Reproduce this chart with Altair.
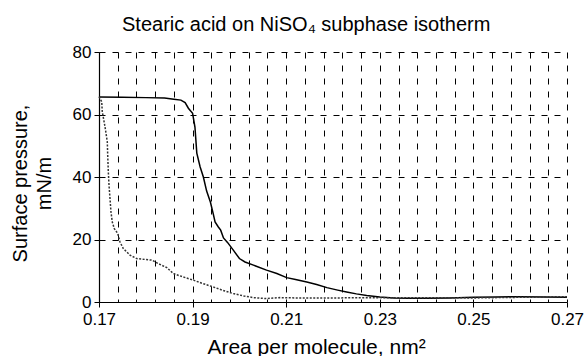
import altair as alt
import pandas as pd

# Solid curve (area per molecule, nm^2 ; surface pressure, mN/m)
solid_area = [0.1700, 0.1750, 0.1800, 0.1840, 0.1860, 0.1875, 0.1884, 0.1891, 0.1900,
              0.1905, 0.1909, 0.1916, 0.1923, 0.1930, 0.1938, 0.1944, 0.1948, 0.1955,
              0.1960, 0.1966, 0.1975, 0.1987, 0.2000, 0.2012, 0.2030, 0.2058, 0.2080,
              0.2101, 0.2120, 0.2144, 0.2165, 0.2187, 0.2210, 0.2229, 0.2250, 0.2272,
              0.2300, 0.2330, 0.2360, 0.2400, 0.2450, 0.2500, 0.2550, 0.2600, 0.2650, 0.2700]
solid_pressure = [65.6, 65.5, 65.4, 65.3, 64.9, 64.6, 63.8, 62.0, 60.4,
                  56.0, 47.6, 43.3, 40.0, 35.5, 32.0, 28.3, 25.6, 24.0,
                  23.0, 20.5, 19.0, 16.6, 13.9, 12.8, 11.8, 10.2, 9.1,
                  7.8, 7.2, 6.4, 5.6, 4.6, 3.8, 3.2, 2.6, 2.1,
                  1.6, 1.3, 1.2, 1.2, 1.3, 1.5, 1.6, 1.7, 1.6, 1.5]

# Dotted curve
dotted_area = [0.1700, 0.17058, 0.1707, 0.17128, 0.17177, 0.17186, 0.17199, 0.17214,
               0.17235, 0.17256, 0.17284, 0.17327, 0.1740, 0.17449, 0.17519, 0.17662,
               0.17806, 0.1813, 0.18267, 0.1845, 0.18588, 0.1880, 0.19015, 0.1920,
               0.19442, 0.1965, 0.1987, 0.2010, 0.2030, 0.20583, 0.2087, 0.2120,
               0.2200, 0.2300, 0.2400, 0.2500, 0.2600, 0.2700]
dotted_pressure = [65.7, 64.1, 60.9, 56.1, 51.3, 47.0, 41.7, 37.4,
                   33.1, 28.8, 25.6, 23.5, 21.9, 19.2, 17.1, 15.0,
                   13.9, 13.4, 12.3, 11.0, 9.1, 8.0, 7.0, 6.0,
                   4.8, 3.7, 2.7, 1.9, 1.4, 1.1, 1.4, 1.3,
                   1.3, 1.4, 1.4, 1.3, 1.5, 1.7]

x_grid_values = [0.170, 0.174, 0.178, 0.182, 0.186, 0.190, 0.194, 0.198, 0.202,
                 0.206, 0.210, 0.214, 0.218, 0.222, 0.226, 0.230, 0.234, 0.238,
                 0.242, 0.246, 0.250, 0.254, 0.258, 0.262, 0.266, 0.270]
y_tick_values = [0, 20, 40, 60, 80]

df_solid = pd.DataFrame({"area": solid_area, "pressure": solid_pressure})
df_dotted = pd.DataFrame({"area": dotted_area, "pressure": dotted_pressure})

FONT = "Liberation Sans"
major_test = "abs((datum.value-0.17)*50 - round((datum.value-0.17)*50)) < 0.001"

x_enc = alt.X(
    "area:Q",
    scale=alt.Scale(domain=[0.17, 0.27], nice=False, zero=False),
    axis=alt.Axis(
        values=x_grid_values,
        labelExpr=f"{major_test} ? format(datum.value, '.2f') : ''",
        labelOverlap=False,
        labelFlush=False,
        labelFontSize=17,
        labelFont=FONT,
        labelColor="black",
        labelPadding=4,
        tickSize=5,
        tickColor="black",
        tickOpacity={"condition": {"test": major_test, "value": 1}, "value": 0},
        domainColor="black",
        domainWidth=1.2,
        grid=True,
        gridColor="black",
        gridDash=[6, 7],
        gridWidth=1,
        title="Area per molecule, nm²",
        titleFont=FONT,
        titleFontSize=21,
        titleFontWeight="normal",
        titleColor="black",
        titleX=217,
        titleY=51,
        titleAlign="center",
        titleBaseline="alphabetic",
    ),
)

y_enc = alt.Y(
    "pressure:Q",
    scale=alt.Scale(domain=[0, 80], nice=False),
    axis=alt.Axis(
        values=y_tick_values,
        labelFontSize=17,
        labelFont=FONT,
        labelColor="black",
        labelPadding=3,
        tickSize=5,
        tickColor="black",
        domainColor="black",
        domainWidth=1.2,
        grid=True,
        gridColor="black",
        gridDash=[6, 7],
        gridWidth=1,
        title=["Surface pressure,", "mN/m"],
        titleFont=FONT,
        titleFontSize=20,
        titleFontWeight="normal",
        titleColor="black",
        titleAngle=270,
        titleX=-73,
        titleY=131,
        titleAlign="center",
        titleBaseline="alphabetic",
        titleLineHeight=24,
    ),
)

solid = alt.Chart(df_solid).mark_line(color="black", strokeWidth=1.5).encode(
    x=x_enc, y=y_enc, order="area:Q"
)
dotted = alt.Chart(df_dotted).mark_line(
    color="#333333", strokeWidth=1.5, strokeDash=[2, 1.5]
).encode(x=x_enc, y=y_enc, order="area:Q")

chart = (
    alt.layer(solid, dotted)
    .properties(
        width=468,
        height=250,
        autosize=alt.AutoSizeParams(type="none"),
        padding={"left": 99, "top": 52, "right": 18, "bottom": 54},
        title=alt.TitleParams(
            "Stearic acid on NiSO₄ subphase isotherm",
            font=FONT,
            fontSize=20,
            fontWeight="normal",
            color="black",
            anchor="start",
            frame="group",
            dx=23,
            dy=22,
            baseline="alphabetic",
            offset=14,
        ),
        background="white",
    )
    .configure_view(stroke=None)
)

chart.save("out.html", embed_options={"renderer": "svg", "actions": False})
